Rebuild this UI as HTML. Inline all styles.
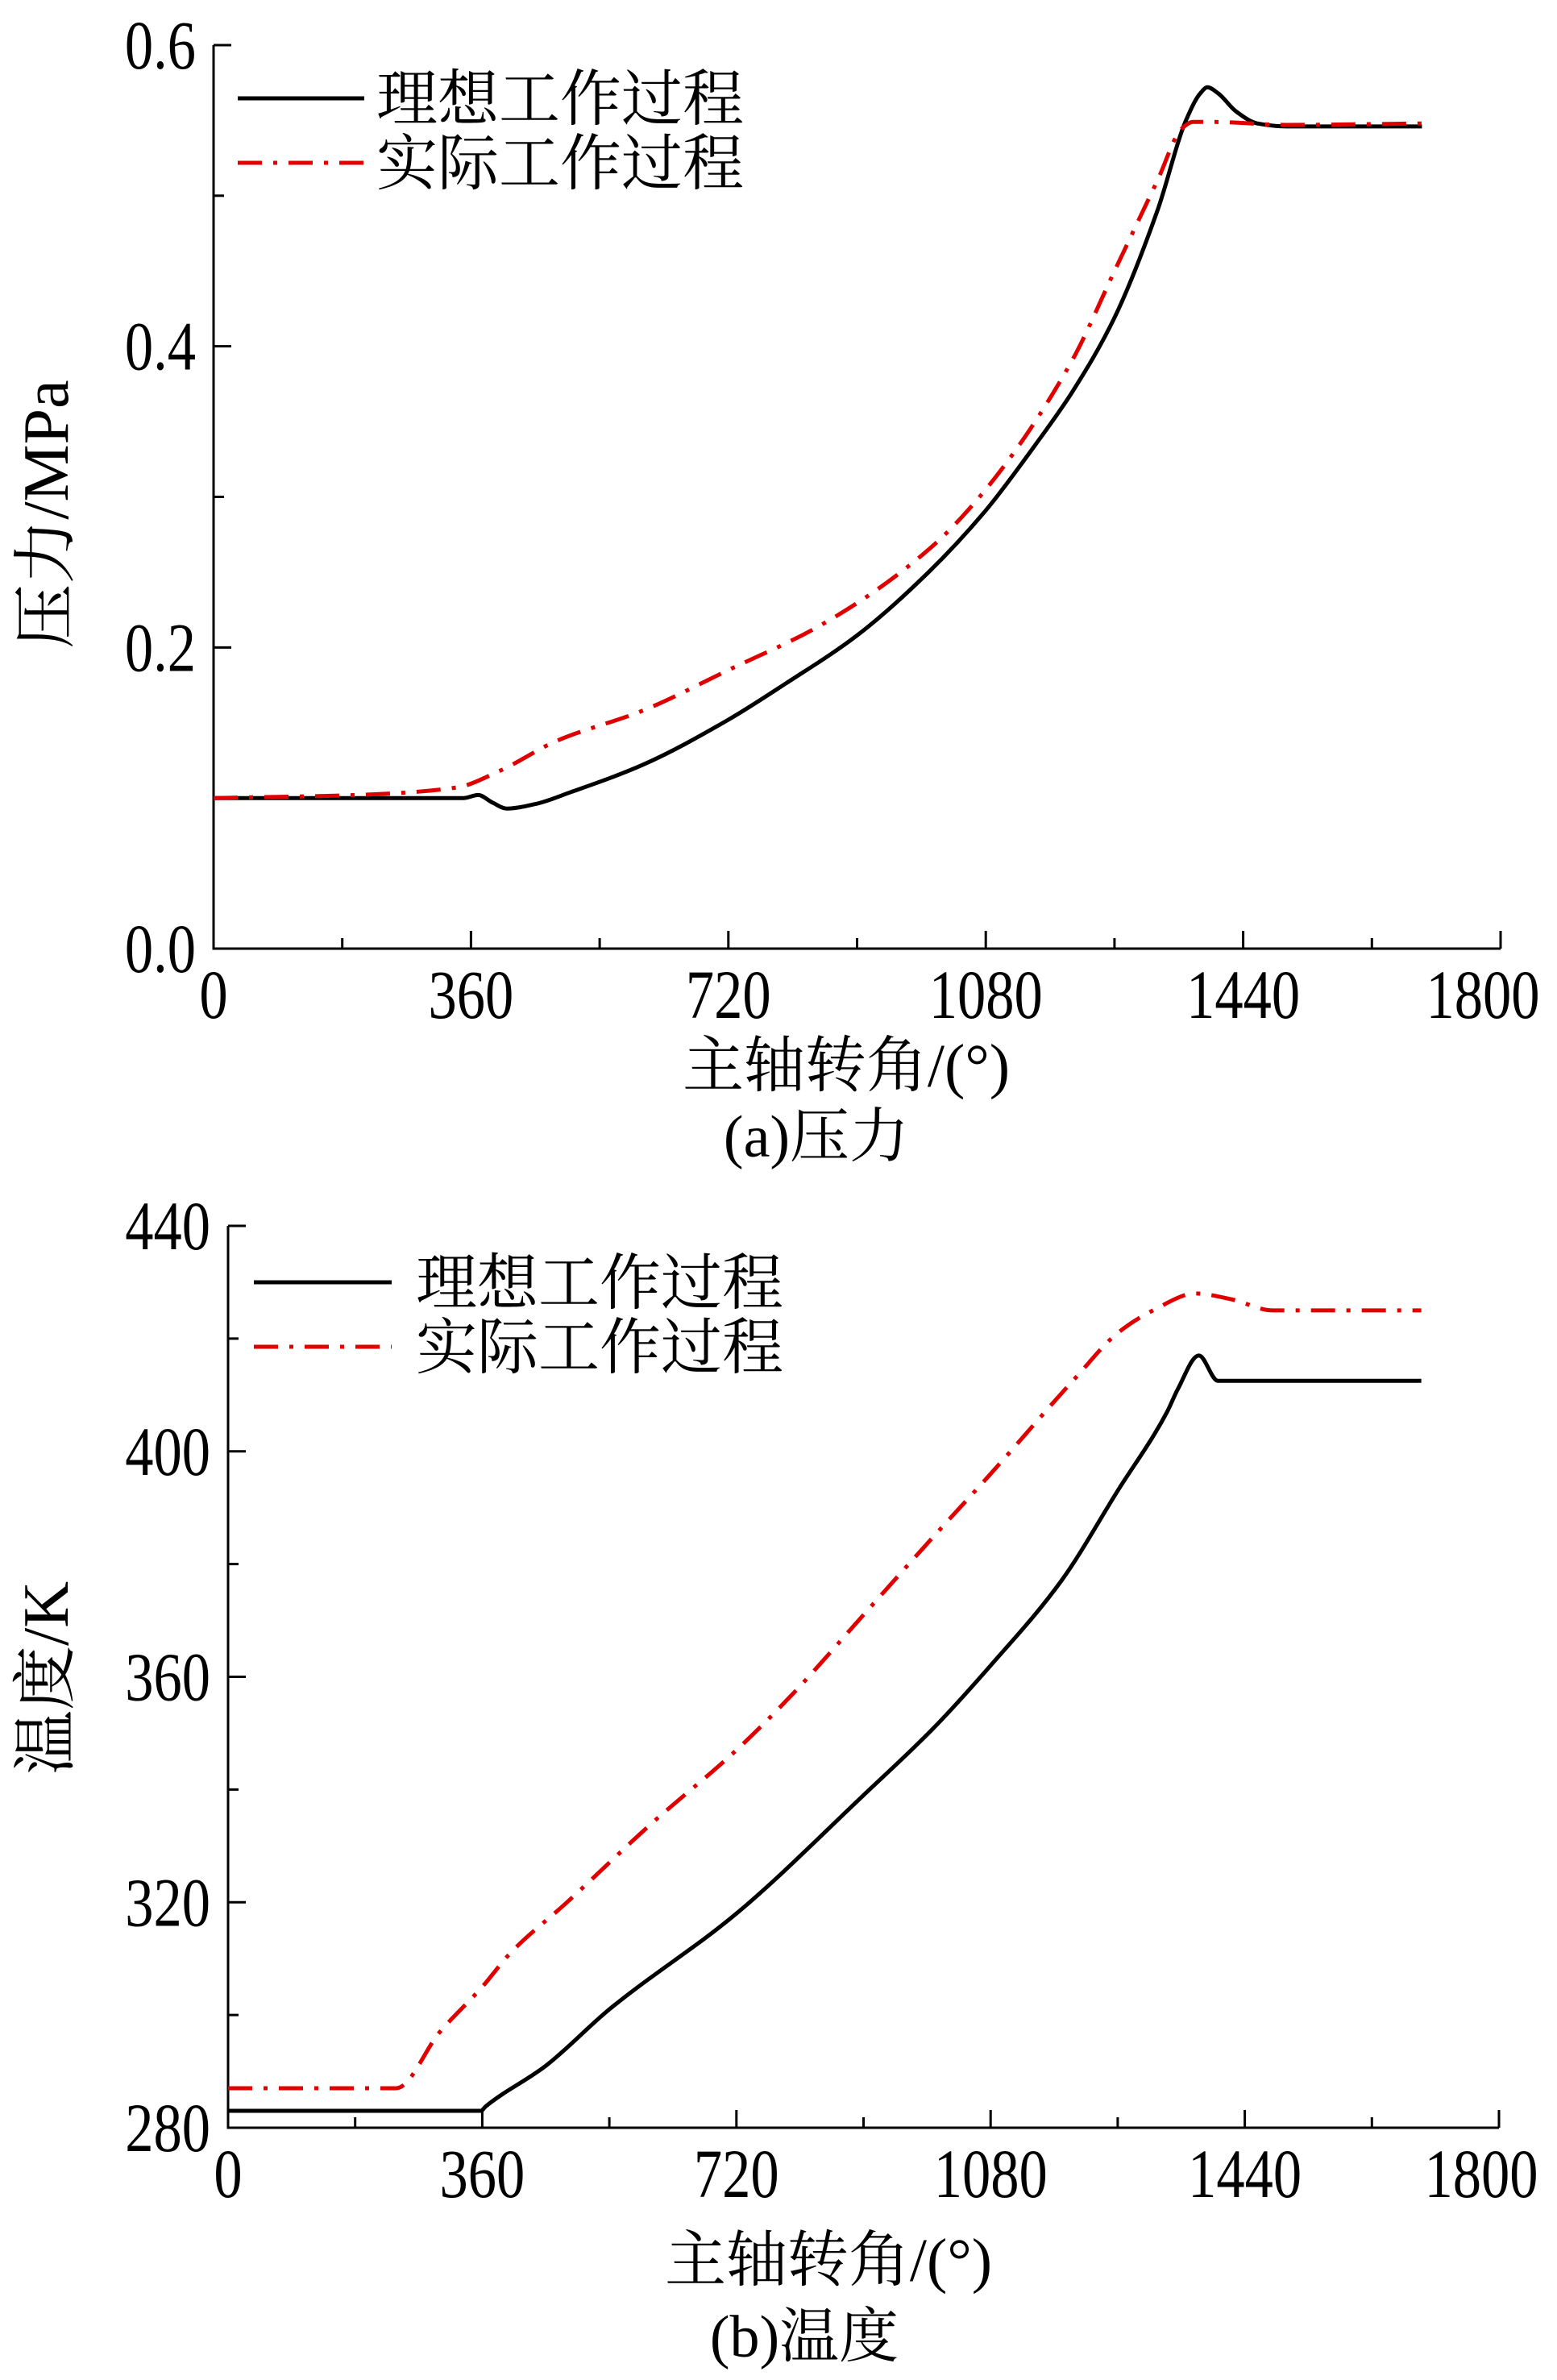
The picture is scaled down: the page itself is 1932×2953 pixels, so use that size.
<!DOCTYPE html>
<html><head><meta charset="utf-8"><style>
html,body{margin:0;padding:0;background:#fff;}
svg{display:block;}
text{font-family:"Liberation Serif","Noto Serif CJK SC",serif;fill:#000;}
</style></head><body>
<svg id="c" width="1932" height="2953" viewBox="0 0 1932 2953" xmlns="http://www.w3.org/2000/svg"></svg>
<script>
const pX=[0,200,350,370,390,410,450,500,600,720,800,900,1000,1080,1150,1200,1260,1320,1360,1380,1390,1405,1430,1460,1500,1690];
const pIdeal=[0.1,0.1,0.1,0.102,0.097,0.093,0.096,0.104,0.122,0.152,0.176,0.208,0.25,0.291,0.335,0.369,0.419,0.49,0.55,0.568,0.572,0.568,0.556,0.548,0.546,0.546];
const pActX=[0,200,340,400,480,600,720,850,1000,1080,1200,1260,1320,1355,1370,1400,1500,1690];
const pActual=[0.1,0.102,0.107,0.118,0.138,0.158,0.185,0.215,0.265,0.305,0.39,0.45,0.51,0.545,0.549,0.549,0.547,0.548];
const tX=[0,358,365,450,540,720,900,1000,1080,1180,1260,1330,1345,1375,1402,1690];
const tIdeal=[283,283,283.8,291,301,318,339,351,362,377,393,407,411,417,412.5,412.5];
const tActX=[0,238,300,360,400,480,600,720,800,900,1000,1080,1200,1260,1310,1370,1420,1480,1690];
const tActual=[287,287,297,305,311,320,334,347,357,371,385,396,413,421,425,428,427,425,425];
const xTicks=[0,360,720,1080,1440,1800];
const pTicks=["0.0","0.2","0.4","0.6"];
const tTicks=["280","320","360","400","440"];
const NS="http://www.w3.org/2000/svg";
const svg=document.getElementById('c');
function mk(tag,attrs,parent,txt){const e=document.createElementNS(NS,tag);for(const k in attrs)e.setAttribute(k,attrs[k]);if(txt!==undefined)e.textContent=txt;(parent||svg).appendChild(e);return e;}
function monotone(p){
  const n=p.length,dx=[],s=[],m=[];
  for(let i=0;i<n-1;i++){dx[i]=p[i+1][0]-p[i][0];s[i]=(p[i+1][1]-p[i][1])/dx[i];}
  m[0]=s[0];m[n-1]=s[n-2];
  for(let i=1;i<n-1;i++){if(s[i-1]*s[i]<=0)m[i]=0;else{const w1=2*dx[i]+dx[i-1],w2=dx[i]+2*dx[i-1];m[i]=(w1+w2)/(w1/s[i-1]+w2/s[i]);}}
  let d='M'+p[0][0].toFixed(1)+','+p[0][1].toFixed(1);
  for(let i=0;i<n-1;i++){const h=dx[i]/3;
    d+=`C${(p[i][0]+h).toFixed(1)},${(p[i][1]+m[i]*h).toFixed(1)} ${(p[i+1][0]-h).toFixed(1)},${(p[i+1][1]-m[i+1]*h).toFixed(1)} ${p[i+1][0].toFixed(1)},${p[i+1][1].toFixed(1)}`;}
  return d;}
function chart(cfg){
  const g=mk('g',{});
  
  
  const sx=v=>cfg.x0+(v-0)/1800*(cfg.x1-cfg.x0);
  const sy=v=>cfg.yb-(v-cfg.ymin)/(cfg.ymax-cfg.ymin)*(cfg.yb-cfg.yt);
  const ax=mk('path',{d:`M${cfg.x0},${cfg.yt}V${cfg.yb}H${cfg.x1}`,fill:'none',stroke:'#000','stroke-width':3},g);
  
  
  for(let v=0;v<=1800;v+=180){const big=v%360===0;const t=mk('line',{x1:sx(v),x2:sx(v),y1:cfg.yb,y2:cfg.yb-(big?22:13),stroke:'#000','stroke-width':3},g);
    
    }
  xTicks.forEach(v=>{const t=mk('text',{x:0,y:0,'font-size':82,'text-anchor':'middle',transform:`translate(${sx(v)+(v===1800?-22:0)},${cfg.yb+86}) scale(0.86,1.05)`},g,String(v));
    
    });
  const n=cfg.labels.length;const step=(cfg.ymax-cfg.ymin)/(n-1);
  for(let i=0;i<(n-1)*2+1;i++){const v=cfg.ymin+i*step/2;const big=i%2===0;const t=mk('line',{x1:cfg.x0,x2:cfg.x0+(big?22:13),y1:sy(v),y2:sy(v),stroke:'#000','stroke-width':3},g);
    
    }
  cfg.labels.forEach((l,i)=>{const t=mk('text',{x:0,y:0,'font-size':82,'text-anchor':'end',transform:`translate(${cfg.x0-22},${sy(cfg.ymin+i*step)+29}) scale(0.86,1.05)`},g,l);
    
    });
  const line=(xs,ys,dash,col,nm)=>{const d=monotone(xs.map((x,i)=>[sx(x),sy(ys[i])]));
    const p=mk('path',{d,fill:'none',stroke:col,'stroke-width':5,'stroke-linejoin':'round','stroke-dasharray':dash},g);
    
    };
  line(cfg.ix,cfg.iy,'none','#000','ideal-series');
  line(cfg.ax,cfg.ay,'30,14,5,14','#e00000','actual-series');
  const L=cfg.leg;
  const l1=mk('line',{x1:L.x1,x2:L.x2,y1:L.y,y2:L.y,stroke:'#000','stroke-width':5},g);
  
  
  const t1=mk('text',{x:L.tx,y:L.y+27,'font-size':76},g,'理想工作过程');
  
  
  const l2=mk('line',{x1:L.x1,x2:L.x2,y1:L.y+80,y2:L.y+80,stroke:'#e00000','stroke-width':5,'stroke-dasharray':'30,14,5,14'},g);
  
  
  const t2=mk('text',{x:L.tx,y:L.y+107,'font-size':76},g,'实际工作过程');
  
  
  const xt=mk('text',{x:cfg.xtX,y:cfg.xtY,'font-size':76,'text-anchor':'middle'},g,'主轴转角/(°)');
  
  
  const cap=mk('text',{x:cfg.capX,y:cfg.capY,'font-size':74,'text-anchor':'middle'},g,cfg.cap);
  
  
  const yt=mk('text',{x:0,y:0,'font-size':80,'text-anchor':'middle',transform:`translate(84,${cfg.ytY}) rotate(-90)`},g,cfg.ytitle);
  
  
}
chart({name:'pressure-chart',x0:265,x1:1862,yt:56,yb:1177,ymin:0,ymax:0.6,labels:pTicks,
  ix:pX,iy:pIdeal,ax:pActX,ay:pActual,leg:{x1:295,x2:452,y:122,tx:467},
  xtX:1050,xtY:1348,capX:1013,capY:1435,cap:'(a)压力',ytY:638,ytitle:'压力/MPa'});
chart({name:'temperature-chart',x0:283,x1:1860,yt:1521,yb:2640,ymin:280,ymax:440,labels:tTicks,
  ix:tX,iy:tIdeal,ax:tActX,ay:tActual,leg:{x1:315,x2:486,y:1591,tx:516},
  xtX:1028,xtY:2830,capX:998,capY:2924,cap:'(b)温度',ytY:2082,ytitle:'温度/K'});
</script>
</body></html>
